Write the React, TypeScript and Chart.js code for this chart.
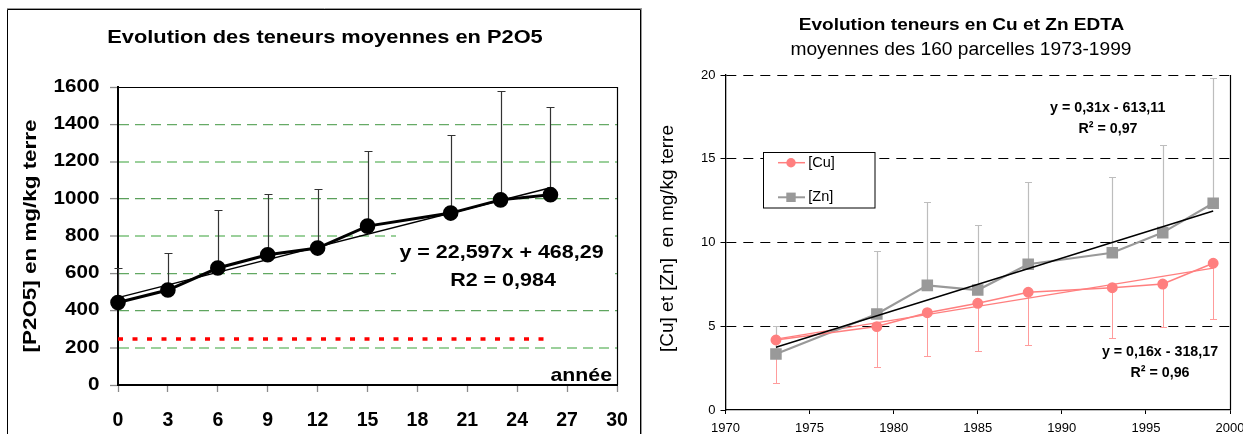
import React, { useEffect, useRef } from 'react';
import { Chart, registerables } from 'chart.js';

Chart.register(...registerables);

const FONT = "'Liberation Sans', Arial, Helvetica, sans-serif";
Chart.defaults.font.family = FONT;

// ---------- Left chart : P2O5 ----------
const P_YEARS = [0, 3, 6, 9, 12, 15, 20, 23, 26];
const P_MEAN = [443, 510, 628, 699, 735, 853, 923, 994, 1022];
const P_ERR_TOP = [626, 708, 937, 1025, 1053, 1254, 1340, 1578, 1494];
const P_THRESHOLD = [247, 247, 247, 247, 247, 247, 247, 247, 247];
const P_X_RANGE = [0, 30, 3];
const P_Y_RANGE = [0, 1600, 200];
const P_TITLE = 'Evolution des teneurs moyennes en P2O5';
const P_Y_TITLE = '[P2O5] en mg/kg terre';
const P_X_TITLE = 'année';
const P_EQ = ['y = 22,597x + 468,29', 'R2 = 0,984'];

// ---------- Right chart : Cu & Zn ----------
const CZ_YEARS = [1973, 1979, 1982, 1985, 1988, 1993, 1996, 1999];
const CU_MEAN = [4.18, 4.98, 5.81, 6.37, 7.03, 7.3, 7.52, 8.76];
const CU_ERR_LOW = [1.63, 2.55, 3.22, 3.52, 3.88, 4.32, 4.98, 5.43];
const ZN_MEAN = [3.34, 5.73, 7.44, 7.16, 8.7, 9.39, 10.59, 12.34];
const ZN_ERR_HIGH = [5.01, 9.47, 12.4, 11.03, 13.59, 13.93, 15.84, 19.8];
const CZ_X_RANGE = [1970, 2000, 5];
const CZ_Y_RANGE = [0, 20, 5];
const CZ_TITLE = 'Evolution teneurs en Cu et Zn EDTA';
const CZ_SUBTITLE = 'moyennes des 160 parcelles 1973-1999';
const CZ_Y_TITLE = '[Cu] et [Zn]  en mg/kg terre';
const ZN_EQ = ['y = 0,31x - 613,11', 'R² = 0,97'];
const CU_EQ = ['y = 0,16x - 318,17', 'R² = 0,96'];
const LEGEND_LABELS = ['[Cu]', '[Zn]'];

const CU_COLOR = '#ff7f7f';
const ZN_COLOR = '#999999';

function linReg(xs: number[], ys: number[]) {
  const n = xs.length;
  const mx = xs.reduce((a, b) => a + b, 0) / n;
  const my = ys.reduce((a, b) => a + b, 0) / n;
  let sxy = 0, sxx = 0;
  for (let i = 0; i < n; i++) {
    sxy += (xs[i] - mx) * (ys[i] - my);
    sxx += (xs[i] - mx) * (xs[i] - mx);
  }
  const a = sxy / sxx;
  return { a, b: my - a * mx };
}

function trendPoints(xs: number[], ys: number[]) {
  const { a, b } = linReg(xs, ys);
  const x0 = xs[0];
  const x1 = xs[xs.length - 1];
  return [{ x: x0, y: a * x0 + b }, { x: x1, y: a * x1 + b }];
}

function pts(xs: number[], ys: number[]) {
  return xs.map((x, i) => ({ x, y: ys[i] }));
}

type TextOpts = { size: number; bold?: boolean; sx?: number; align?: CanvasTextAlign; color?: string; rot?: number };
function drawText(ctx: CanvasRenderingContext2D, s: string, x: number, y: number, o: TextOpts) {
  ctx.save();
  ctx.translate(x, y);
  if (o.rot) ctx.rotate(o.rot);
  ctx.scale(o.sx ?? 1, 1);
  ctx.font = `${o.bold ? 'bold ' : ''}${o.size}px ${FONT}`;
  ctx.textAlign = o.align ?? 'center';
  ctx.textBaseline = 'middle';
  ctx.fillStyle = o.color ?? '#000';
  ctx.fillText(s, 0, 0);
  ctx.restore();
}

function drawErrorBars(chart: any, xs: number[], from: number[], to: number[], color: string, width: number, cap: number) {
  const { ctx, scales } = chart;
  const xs_ = scales.x;
  const ys_ = scales.y;
  ctx.save();
  ctx.strokeStyle = color;
  ctx.lineWidth = width;
  xs.forEach((xv, i) => {
    const px = Math.round(xs_.getPixelForValue(xv)) + 0.5;
    const p1 = ys_.getPixelForValue(from[i]);
    const p2 = Math.round(ys_.getPixelForValue(to[i])) + 0.5;
    ctx.beginPath();
    ctx.moveTo(px, p1);
    ctx.lineTo(px, p2);
    ctx.moveTo(px - cap / 2, p2);
    ctx.lineTo(px + cap / 2, p2);
    ctx.stroke();
  });
  ctx.restore();
}

const P_GRID_STYLE: Record<number, [string, number]> = {
  200: ['#9bd09b', 2],
  400: ['#5fa55f', 1.2],
  600: ['#62a862', 1.2],
  800: ['#9bd09b', 2],
  1000: ['#5a9f5a', 1.2],
  1200: ['#9bd09b', 2],
  1400: ['#66aa66', 1.2],
};

const leftPlugin = {
  id: 'p2o5Deco',
  beforeDatasetsDraw(chart: any) {
    const { ctx } = chart;
    drawErrorBars(chart, P_YEARS, P_MEAN, P_ERR_TOP, '#333333', 1.2, 8);
    ctx.save();
    ctx.fillStyle = '#ffffff';
    ctx.fillRect(396, 228, 214, 64);
    ctx.restore();
    drawText(ctx, P_EQ[0], 501.5, 252.7, { size: 19, bold: true, sx: 1.13 });
    drawText(ctx, P_EQ[1], 503, 281, { size: 19, bold: true, sx: 1.13 });
  },
  afterDraw(chart: any) {
    const { ctx, chartArea: ca, scales } = chart;
    const x = scales.x;
    const y = scales.y;
    ctx.save();
    // plot top & right borders
    ctx.strokeStyle = '#000';
    ctx.lineWidth = 1.2;
    ctx.beginPath();
    ctx.moveTo(ca.left, Math.round(ca.top) + 0.5);
    ctx.lineTo(ca.right + 0.5, Math.round(ca.top) + 0.5);
    ctx.moveTo(Math.round(ca.right) + 0.5, ca.top);
    ctx.lineTo(Math.round(ca.right) + 0.5, ca.bottom);
    ctx.stroke();
    // outer frame
    ctx.lineWidth = 1;
    ctx.strokeStyle = '#9a9a9a';
    ctx.beginPath();
    ctx.moveTo(7, 8.5);
    ctx.lineTo(642, 8.5);
    ctx.moveTo(641.5, 9);
    ctx.lineTo(641.5, 440);
    ctx.stroke();
    ctx.strokeStyle = '#000';
    ctx.beginPath();
    ctx.moveTo(7.5, 440);
    ctx.lineTo(7.5, 9.5);
    ctx.lineTo(640.5, 9.5);
    ctx.lineTo(640.5, 440);
    ctx.stroke();
    ctx.restore();
    // tick labels
    y.ticks.forEach((t: any) => {
      drawText(ctx, String(t.value), ca.left - 18.5, y.getPixelForValue(t.value), { size: 17.5, bold: true, sx: 1.18, align: 'right' });
    });
    x.ticks.forEach((t: any) => {
      drawText(ctx, String(t.value), x.getPixelForValue(t.value), ca.bottom + 36, { size: 19.5, bold: true });
    });
    // titles
    drawText(ctx, P_TITLE, 325, 38.3, { size: 18.5, bold: true, sx: 1.18 });
    drawText(ctx, P_Y_TITLE, 31, (ca.top + ca.bottom) / 2, { size: 19, bold: true, sx: 1.18, rot: -Math.PI / 2 });
    drawText(ctx, P_X_TITLE, ca.right - 5, ca.bottom - 9, { size: 19, bold: true, sx: 1.12, align: 'right' });
  },
};

function leftConfig(): any {
  return {
    type: 'line',
    data: {
      datasets: [
        {
          label: 'P2O5',
          data: pts(P_YEARS, P_MEAN),
          borderColor: '#000',
          backgroundColor: '#000',
          borderWidth: 3,
          pointRadius: 6.3,
          pointHoverRadius: 6.3,
          pointBackgroundColor: '#000',
          pointBorderColor: '#000',
          clip: false,
          order: 1,
        },
        {
          label: 'tendance',
          data: trendPoints(P_YEARS, P_MEAN),
          borderColor: '#000',
          borderWidth: 1.5,
          pointRadius: 0,
          clip: false,
          order: 2,
        },
        {
          label: 'seuil',
          data: pts(P_YEARS, P_THRESHOLD),
          borderColor: '#ff0000',
          borderWidth: 3.3,
          borderDash: [5, 9.5],
          pointRadius: 0,
          order: 3,
        },
      ],
    },
    options: {
      responsive: false,
      animation: false,
      events: [],
      layout: { padding: { left: 0, top: 87, right: 28, bottom: 0 } },
      plugins: { legend: { display: false }, tooltip: { enabled: false }, title: { display: false } },
      scales: {
        x: {
          type: 'linear',
          min: P_X_RANGE[0],
          max: P_X_RANGE[1],
          ticks: { display: false, stepSize: P_X_RANGE[2] },
          grid: { drawOnChartArea: false, drawTicks: true, tickLength: 7, tickColor: '#8a8a8a', tickWidth: 1.3, tickBorderDash: [] },
          border: { display: true, color: '#000', width: 2 },
          afterFit(s: any) {
            s.height = 49;
            s.paddingLeft = 0;
            s.paddingRight = 0;
          },
        },
        y: {
          type: 'linear',
          min: P_Y_RANGE[0],
          max: P_Y_RANGE[1],
          ticks: { display: false, stepSize: P_Y_RANGE[2] },
          grid: {
            color: (c: any) => (P_GRID_STYLE[c.tick?.value] ? P_GRID_STYLE[c.tick.value][0] : 'rgba(0,0,0,0)'),
            lineWidth: (c: any) => (P_GRID_STYLE[c.tick?.value] ? P_GRID_STYLE[c.tick.value][1] : 1),
            drawTicks: true,
            tickLength: 8,
            tickColor: '#8a8a8a',
            tickWidth: 1.3,
            tickBorderDash: [],
          },
          border: { display: true, color: '#000', width: 2, dash: [10, 6] },
          afterFit(s: any) {
            s.width = 118;
            s.paddingTop = 0;
            s.paddingBottom = 0;
          },
        },
      },
    },
    plugins: [leftPlugin],
  };
}

const OX = 645;

const rightPlugin = {
  id: 'czDeco',
  beforeDatasetsDraw(chart: any) {
    drawErrorBars(chart, CZ_YEARS, CU_MEAN, CU_ERR_LOW, '#ff9c9c', 1, 7);
    drawErrorBars(chart, CZ_YEARS, ZN_MEAN, ZN_ERR_HIGH, '#bdbdbd', 1.2, 7);
  },
  afterDatasetsDraw(chart: any) {
    const { ctx } = chart;
    // legend
    const bx = 763.5 - OX;
    const by = 152.5;
    ctx.save();
    ctx.fillStyle = '#fff';
    ctx.fillRect(bx, by, 111.5, 55.5);
    ctx.strokeStyle = '#000';
    ctx.lineWidth = 1;
    ctx.strokeRect(bx, by, 111.5, 55.5);
    // Cu entry
    const y1 = 162.7;
    ctx.strokeStyle = CU_COLOR;
    ctx.lineWidth = 1.5;
    ctx.beginPath();
    ctx.moveTo(778 - OX, y1);
    ctx.lineTo(805 - OX, y1);
    ctx.stroke();
    ctx.fillStyle = CU_COLOR;
    ctx.beginPath();
    ctx.arc(791 - OX, y1, 4.7, 0, Math.PI * 2);
    ctx.fill();
    // Zn entry
    const y2 = 197.3;
    ctx.strokeStyle = ZN_COLOR;
    ctx.lineWidth = 2;
    ctx.beginPath();
    ctx.moveTo(778 - OX, y2);
    ctx.lineTo(805 - OX, y2);
    ctx.stroke();
    ctx.fillStyle = ZN_COLOR;
    ctx.fillRect(791 - OX - 4.7, y2 - 4.7, 9.4, 9.4);
    ctx.restore();
    drawText(ctx, LEGEND_LABELS[0], 808.3 - OX, y1, { size: 14.5, align: 'left' });
    drawText(ctx, LEGEND_LABELS[1], 808.3 - OX, y2, { size: 14.5, align: 'left' });
    // equations
    drawText(ctx, ZN_EQ[0], 1107.7 - OX, 107.7, { size: 15.5, bold: true, sx: 0.92 });
    drawText(ctx, ZN_EQ[1], 1108 - OX, 128.3, { size: 15.5, bold: true, sx: 0.92 });
    drawText(ctx, CU_EQ[0], 1160 - OX, 351.7, { size: 15.5, bold: true, sx: 0.92 });
    drawText(ctx, CU_EQ[1], 1160 - OX, 372.3, { size: 15.5, bold: true, sx: 0.92 });
  },
  afterDraw(chart: any) {
    const { ctx, chartArea: ca } = chart;
    ctx.save();
    ctx.strokeStyle = '#000';
    ctx.lineWidth = 1.2;
    ctx.beginPath();
    ctx.moveTo(Math.round(ca.right) + 0.5, ca.top);
    ctx.lineTo(Math.round(ca.right) + 0.5, ca.bottom);
    ctx.stroke();
    ctx.restore();
    drawText(ctx, CZ_TITLE, 961.5 - OX, 25.7, { size: 17, bold: true, sx: 1.12 });
    drawText(ctx, CZ_SUBTITLE, 961 - OX, 50, { size: 18, sx: 1.065 });
    drawText(ctx, CZ_Y_TITLE, 667.4 - OX, 238.5, { size: 19, rot: -Math.PI / 2 });
  },
};

function rightConfig(): any {
  return {
    type: 'line',
    data: {
      datasets: [
        {
          label: '[Cu]',
          data: pts(CZ_YEARS, CU_MEAN),
          borderColor: CU_COLOR,
          backgroundColor: CU_COLOR,
          borderWidth: 1.5,
          pointStyle: 'circle',
          pointRadius: 4.7,
          pointHoverRadius: 4.7,
          pointBackgroundColor: CU_COLOR,
          pointBorderColor: CU_COLOR,
          clip: false,
          order: 1,
        },
        {
          label: '[Zn]',
          data: pts(CZ_YEARS, ZN_MEAN),
          borderColor: ZN_COLOR,
          backgroundColor: ZN_COLOR,
          borderWidth: 2.2,
          pointStyle: 'rect',
          pointRadius: 6.6,
          pointHoverRadius: 6.6,
          pointBackgroundColor: ZN_COLOR,
          pointBorderColor: ZN_COLOR,
          clip: false,
          order: 2,
        },
        {
          label: 'tendance Cu',
          data: trendPoints(CZ_YEARS, CU_MEAN),
          borderColor: CU_COLOR,
          borderWidth: 1.2,
          pointRadius: 0,
          clip: false,
          order: 3,
        },
        {
          label: 'tendance Zn',
          data: trendPoints(CZ_YEARS, ZN_MEAN),
          borderColor: '#000',
          borderWidth: 1.4,
          pointRadius: 0,
          clip: false,
          order: 0,
        },
      ],
    },
    options: {
      responsive: false,
      animation: false,
      events: [],
      layout: { padding: { left: 0, top: 75, right: 13, bottom: 0 } },
      plugins: { legend: { display: false }, tooltip: { enabled: false }, title: { display: false } },
      scales: {
        x: {
          type: 'linear',
          min: CZ_X_RANGE[0],
          max: CZ_X_RANGE[1],
          ticks: {
            stepSize: CZ_X_RANGE[2],
            color: '#000',
            font: { family: FONT, size: 13 },
            padding: 7,
            maxRotation: 0,
            autoSkip: false,
            callback: (v: any) => String(v),
          },
          grid: { drawOnChartArea: false, drawTicks: true, tickLength: 4, tickColor: '#000', tickWidth: 1, tickBorderDash: [] },
          border: { display: true, color: '#000', width: 1.3 },
          afterFit(s: any) {
            s.height = 24;
            s.paddingLeft = 0;
            s.paddingRight = 0;
          },
        },
        y: {
          type: 'linear',
          min: CZ_Y_RANGE[0],
          max: CZ_Y_RANGE[1],
          ticks: {
            stepSize: CZ_Y_RANGE[2],
            color: '#000',
            font: { family: FONT, size: 13 },
            padding: 5,
            callback: (v: any) => String(v),
          },
          grid: {
            color: (c: any) => (c.tick && c.tick.value === 0 ? 'rgba(0,0,0,0)' : '#000'),
            lineWidth: 1,
            drawTicks: true,
            tickLength: 5,
            tickColor: '#000',
            tickWidth: 1,
            tickBorderDash: [],
          },
          border: { display: true, color: '#000', width: 1.3, dash: [10, 7] },
          afterFit(s: any) {
            s.width = 80.5;
            s.paddingTop = 0;
            s.paddingBottom = 0;
          },
        },
      },
    },
    plugins: [rightPlugin],
  };
}

export default function App() {
  const leftRef = useRef<HTMLCanvasElement>(null);
  const rightRef = useRef<HTMLCanvasElement>(null);
  useEffect(() => {
    const c1 = new Chart(leftRef.current as HTMLCanvasElement, leftConfig());
    const c2 = new Chart(rightRef.current as HTMLCanvasElement, rightConfig());
    return () => {
      c1.destroy();
      c2.destroy();
    };
  }, []);
  return (
    <div style={{ position: 'absolute', left: 0, top: 0, width: 1243, height: 434, background: '#fff', overflow: 'hidden' }}>
      <canvas ref={leftRef} width={645} height={434} style={{ position: 'absolute', left: 0, top: 0, width: 645, height: 434 }} />
      <canvas ref={rightRef} width={598} height={434} style={{ position: 'absolute', left: 645, top: 0, width: 598, height: 434 }} />
    </div>
  );
}
